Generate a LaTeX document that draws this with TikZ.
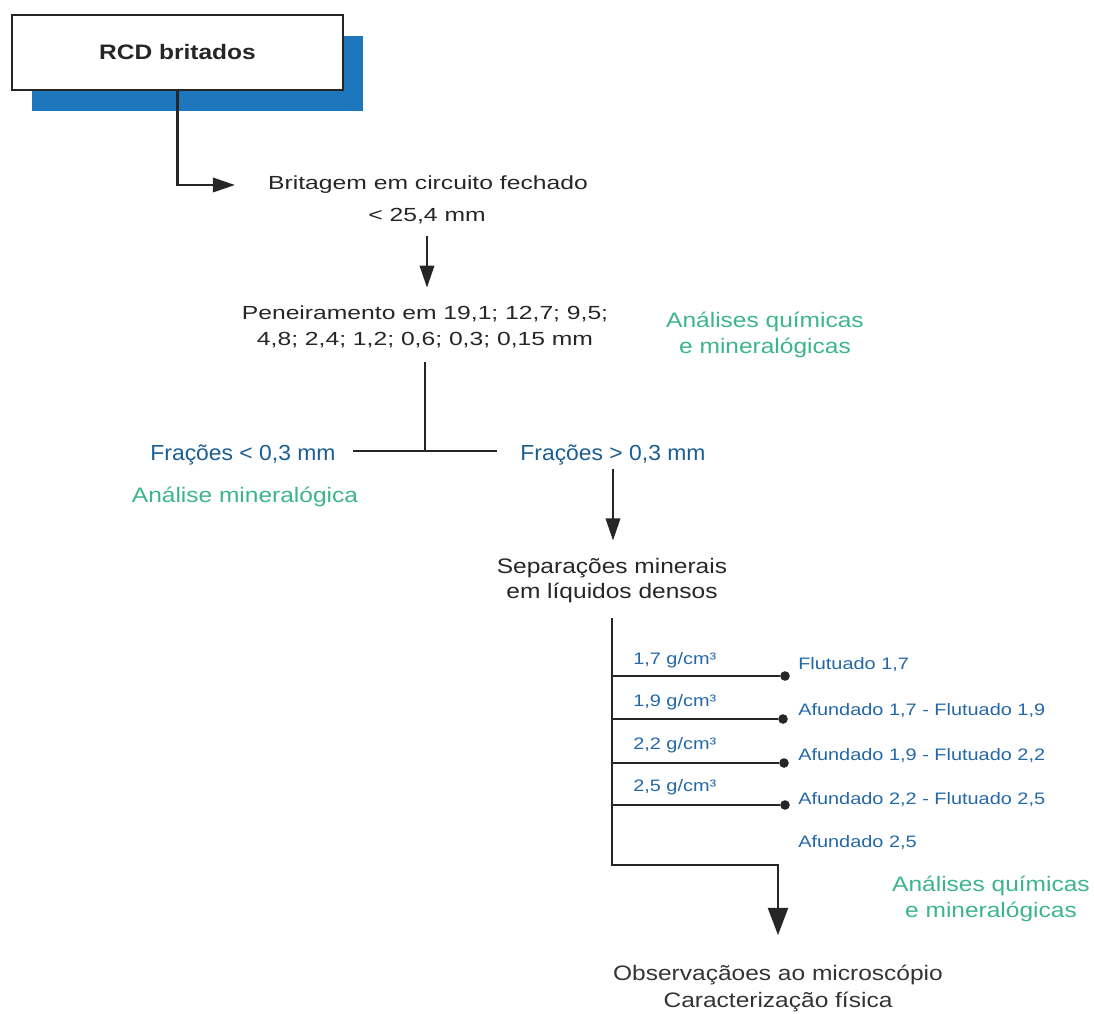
\documentclass[tikz,border=0pt]{standalone}
\usepackage{fontspec}
\setmainfont{Liberation Sans}
\newfontfamily\widefont[FakeStretch=1.3]{Liberation Sans}
\newfontfamily\midfont[FakeStretch=1.17]{Liberation Sans}
\newfontfamily\smallfont[FakeStretch=1.2]{Liberation Sans}
\newfontfamily\fracfont[FakeStretch=1.05]{Liberation Sans}
\usetikzlibrary{arrows.meta,shadows}

\definecolor{boxblue}{HTML}{1E76BC}
\definecolor{fracblue}{HTML}{1B5E93}
\definecolor{labelblue}{HTML}{2468A8}
\definecolor{labgreen}{HTML}{3CB48C}
\definecolor{inkgray}{HTML}{262626}

\tikzset{
  every node/.style={inner sep=0pt, text=inkgray},
  link/.style={line width=1.6pt, draw=black!85},
  linkarrow/.style={link, -{Triangle[length=0.55cm,width=0.36cm]}},
  bigarrow/.style={link, -{Triangle[length=0.68cm,width=0.5cm]}},
  rcdbox/.style={draw=black!85, line width=1.1pt, fill=white,
    minimum width=8.275cm, minimum height=1.875cm,
    font=\midfont\bfseries\fontsize{14.9}{18}\selectfont,
    drop shadow={shadow xshift=0.5cm, shadow yshift=-0.53cm, fill=boxblue, opacity=1}},
  stepnote/.style={align=center, font=\widefont\fontsize{13.5}{18.5}\selectfont},
  sepnote/.style={align=center, font=\midfont\fontsize{14.9}{17.8}\selectfont},
  obsnote/.style={align=center, font=\midfont\fontsize{14.9}{19.2}\selectfont, text=black!80},
  labnote/.style={align=center, text=labgreen, font=\midfont\fontsize{14.9}{18.5}\selectfont},
  fracnote/.style={text=fracblue, font=\fracfont\fontsize{15.5}{18}\selectfont},
  densnote/.style={anchor=west, text=labelblue, font=\smallfont\fontsize{11.8}{14}\selectfont},
  tipdot/.style={circle, fill=black!85, minimum size=0.24cm}
}

\begin{document}
\begin{tikzpicture}[x=0.025cm, y=-0.025cm]
\useasboundingbox (0,0) rectangle (1094,1014);

% feed box
\node[rcdbox] (rcd) at (177.5,52.5) {RCD britados};

% crushing and sieving
\node[stepnote] (brit) at (428,185) {Britagem em circuito fechado};
\node[stepnote] (britmm) at (427,216) {< 25,4 mm};
\node[stepnote] (pen) at (425,327) {Peneiramento em 19,1; 12,7; 9,5;\\4,8; 2,4; 1,2; 0,6; 0,3; 0,15 mm};
\node[labnote] (labtop) at (765,335) {Análises químicas\\e mineralógicas};

\draw[linkarrow] (rcd.south) |- ([xshift=-0.825cm]brit.west);
\draw[linkarrow, shorten <=0.3cm, shorten >=0.45cm] (britmm.south) -- (britmm.south |- pen.north);

% split of fractions
\coordinate (split) at (425,451);
\node[fracnote] (fracL) at (243,455) {Frações < 0,3 mm};
\node[fracnote] (fracR) at (613,455) {Frações > 0,3 mm};
\node[labnote] (labL) at (245,497) {Análise mineralógica};

\draw[link, shorten <=0.35cm] (pen.south) -- (split);
\draw[link, shorten <=0.44cm, shorten >=0.59cm] (fracL.east |- split) -- (fracR.west |- split);

% dense liquids
\node[sepnote] (sep) at (612,581) {Separações minerais\\em líquidos densos};
\draw[linkarrow, shorten <=0.1cm, shorten >=0.45cm] (fracR.south) -- (fracR.south |- sep.north);

\node[tipdot] (d17) at (785,676) {};
\node[tipdot] (d19) at (783,719) {};
\node[tipdot] (d22) at (784,763) {};
\node[tipdot] (d25) at (785,805) {};
\draw[link] (sep.south |- d17) -- (d17);
\draw[link] (sep.south |- d19) -- (d19);
\draw[link] (sep.south |- d22) -- (d22);
\draw[link] (sep.south |- d25) -- (d25);

\node[densnote] (g17) at (633,660) {1,7 g/cm³};
\node[densnote] (g19) at (633,702) {1,9 g/cm³};
\node[densnote] (g22) at (633,745) {2,2 g/cm³};
\node[densnote] (g25) at (633,787) {2,5 g/cm³};

\node[densnote] (f17) at (798,665) {Flutuado 1,7};
\node[densnote] (f19) at (798,711) {Afundado 1,7 - Flutuado 1,9};
\node[densnote] (f22) at (798,756) {Afundado 1,9 - Flutuado 2,2};
\node[densnote] (f25) at (798,800) {Afundado 2,2 - Flutuado 2,5};
\node[densnote] (a25) at (798,843) {Afundado 2,5};

% final products
\node[labnote] (labbot) at (991,899) {Análises químicas\\e mineralógicas};
\node[obsnote] (obs) at (778,988) {Observaçãoes ao microscópio\\Caracterização física};
\coordinate (elbow) at (778,865);
\draw[bigarrow, shorten <=0.35cm, shorten >=0.73cm] (sep.south) |- (elbow) -- (obs.north);
\end{tikzpicture}
\end{document}
